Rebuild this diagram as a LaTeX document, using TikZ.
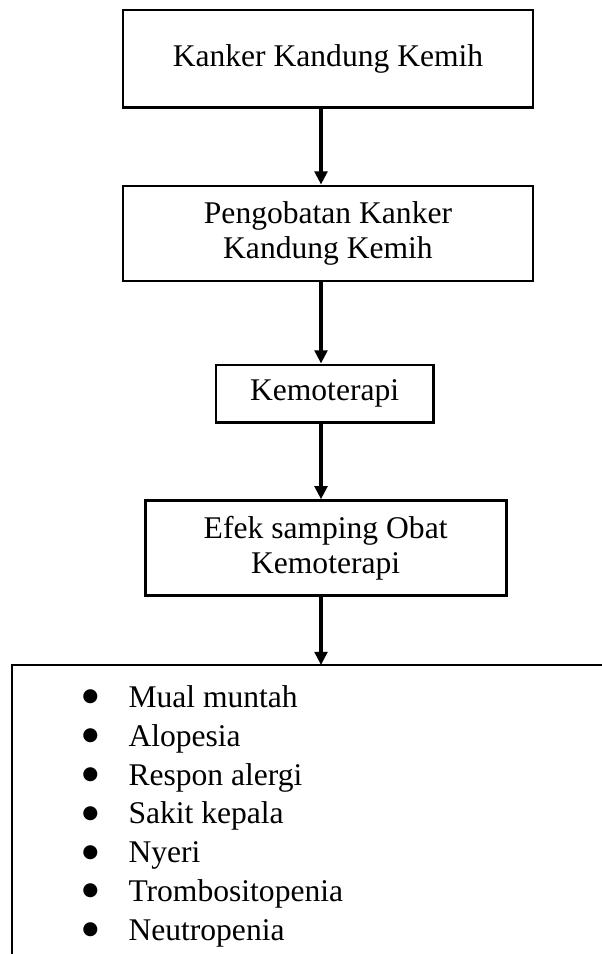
\documentclass[tikz,border=0pt]{standalone}
\usepackage{fontspec}
\setmainfont{Liberation Serif}
\newfontfamily\symfont{DejaVu Sans}
\usetikzlibrary{positioning,arrows.meta}
\newcommand{\bul}{\makebox[17.5pt][l]{\raisebox{2.1pt}{\symfont\fontsize{7}{7}\selectfont ●}}}

\begin{document}
\begin{tikzpicture}[x=0.38pt,y=-0.38pt,->,>={Triangle[width=4.8pt,length=5pt]},line width=1.1pt,
  main node/.style={draw,rectangle,align=center,inner sep=0pt,minimum height=36.1pt,font=\fontsize{12}{13.6}\selectfont},
  item node/.style={anchor=base west,inner sep=0pt,font=\fontsize{12}{14}\selectfont}]
  \useasboundingbox (0,0) rectangle (601,954);
  \coordinate (spine) at (321,0);

  \node[main node,minimum width=155.8pt,minimum height=36.9pt] (1) at (328,58.5) {Kanker Kandung Kemih};
  \node[main node,minimum width=155.8pt] (2) [below=28.9pt of 1] {Pengobatan Kanker\\Kandung Kemih};
  \node[main node,minimum width=82.5pt,minimum height=22pt] (3) [below=30.8pt of 2,xshift=-1.3pt] {Kemoterapi};
  \node[main node,minimum width=137.2pt] (4) [below=28.5pt of 3,xshift=0.4pt] {Efek samping Obat\\Kemoterapi};
  \node[inner sep=0pt,minimum width=240pt,minimum height=120pt,anchor=north west] (5) at (12,665) {};

  \node[item node] (6) at (81,707.5) {\bul Mual muntah};
  \node[item node] (7) at (81,746.3) {\bul Alopesia};
  \node[item node] (8) at (81,785) {\bul Respon alergi};
  \node[item node] (9) at (81,823.8) {\bul Sakit kepala};
  \node[item node] (10) at (81,862.6) {\bul Nyeri};
  \node[item node] (11) at (81,901.4) {\bul Trombositopenia};
  \node[item node] (12) at (81,940.2) {\bul Neutropenia};

  \draw[-] (5.north east) -- (5.north west) -- (5.south west);

  \path[line width=1.3pt]
    (1.south -| spine) edge (2.north -| spine)
    (2.south -| spine) edge (3.north -| spine)
    (3.south -| spine) edge (4.north -| spine)
    (4.south -| spine) edge (5.north -| spine)
  ;
\end{tikzpicture}
\end{document}
